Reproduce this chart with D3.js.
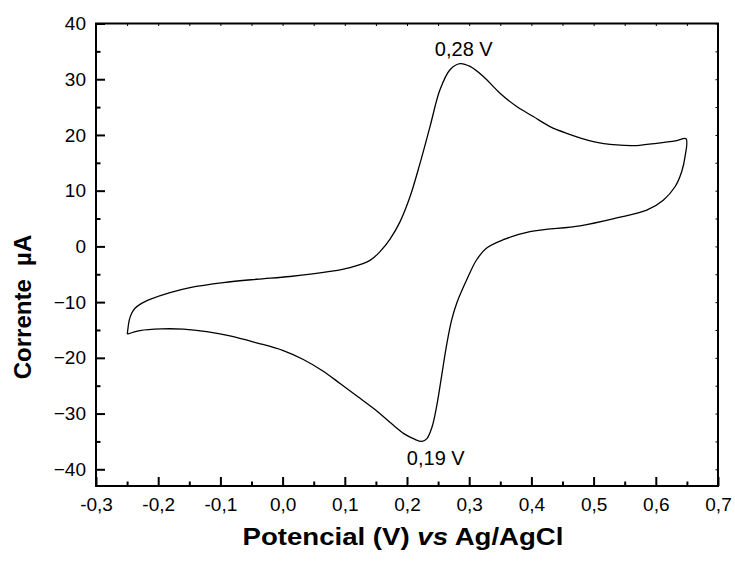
<!DOCTYPE html>
<html>
<head>
<meta charset="utf-8">
<script src="https://cdn.jsdelivr.net/npm/d3@7"></script>
<style>
  body { margin: 0; background: #fff; }
  text { font-family: "Liberation Sans", Arial, sans-serif; fill: #000; }
</style>
</head>
<body>
<div id="chart"></div>
<script>
// forward scan (anodic), -0.25 V -> 0.65 V
const potentialFwd = [-0.2497, -0.2464, -0.2426, -0.2373, -0.2293, -0.2212, -0.2132, -0.181, -0.1489, -0.0953,
  -0.0417, 0.0119, 0.0762, 0.1084, 0.1405, 0.157, 0.1727, 0.1887, 0.2048, 0.2209, 0.237, 0.253, 0.2691,
  0.2852, 0.3013, 0.3227, 0.3495, 0.3764, 0.403, 0.4299, 0.4567, 0.4995, 0.5371, 0.5693, 0.6014,
  0.6336, 0.6486];
const currentFwd = [-15.75, -13.2, -12.0, -11.1, -10.4, -9.9, -9.5, -8.3, -7.4, -6.5,
  -5.9, -5.4, -4.5, -3.8, -2.5, -0.9, 1.3, 4.4, 8.9, 14.9, 21.5, 28.1, 31.7,
  32.8, 32.3, 30.5, 27.5, 25.1, 23.3, 21.5, 20.3, 18.8, 18.2, 18.1, 18.5,
  19.0, 19.3];

// reverse scan (cathodic), 0.65 V -> -0.25 V
const potentialRev = [0.647, 0.6416, 0.6309, 0.612, 0.5854, 0.5371, 0.4781, 0.3977, 0.3548, 0.3281, 0.312,
  0.296, 0.2799, 0.2718, 0.264, 0.256, 0.248, 0.24, 0.232, 0.224, 0.212, 0.195, 0.175, 0.15, 0.12,
  0.0923, 0.0654, 0.0333, 0.0011, -0.0417, -0.0846, -0.122, -0.1596, -0.1944, -0.2293, -0.2497];
const currentRev = [16.1, 13.4, 10.7, 8.3, 6.5, 5.1, 3.7, 2.65, 1.2, -0.3, -2.4,
  -6.0, -10.2, -13.2, -17.5, -23.0, -28.5, -32.5, -34.5, -35.0, -34.6, -33.6, -31.8, -29.4, -26.9,
  -24.6, -22.4, -20.3, -18.7, -17.3, -16.05, -15.3, -14.85, -14.8, -15.1, -15.75];

const xTicks = [-0.3, -0.2, -0.1, 0.0, 0.1, 0.2, 0.3, 0.4, 0.5, 0.6, 0.7];
const yTicks = [-40, -30, -20, -10, 0, 10, 20, 30, 40];
const peaks = [
  { v: 0.28, i: 32.7, label: "0,28 V", dx: 7, dy: -8.5 },
  { v: 0.19, i: -34.9, label: "0,19 V", dx: 35, dy: 24 }
];

const width = 735, height = 561;
const margin = { top: 23.5, right: 17, bottom: 75, left: 96 };

const svg = d3.select("#chart").append("svg")
  .attr("width", width)
  .attr("height", height);

const x = d3.scaleLinear().domain([-0.3, 0.7]).range([margin.left, width - margin.right]);
const y = d3.scaleLinear().domain([-43, 40]).range([height - margin.bottom, margin.top]);

const comma = (d) => d3.format(".1f")(d).replace(".", ",").replace("−", "-");
const minorX = d3.range(-0.25, 0.7, 0.1);
const minorY = d3.range(-35, 40, 10);

// bottom axis
svg.append("g")
  .attr("transform", `translate(0,${y.range()[0]})`)
  .call(d3.axisBottom(x).tickValues(xTicks).tickFormat(comma).tickSizeInner(-9).tickSizeOuter(0).tickPadding(11.5))
  .call((g) => g.select(".domain").remove())
  .call((g) => g.selectAll(".tick line").attr("stroke-width", 2))
  .call((g) => g.selectAll("text").attr("font-size", 19));
svg.append("g")
  .attr("transform", `translate(0,${y.range()[0]})`)
  .call(d3.axisBottom(x).tickValues(minorX).tickFormat("").tickSizeInner(-4.5).tickSizeOuter(0))
  .call((g) => g.select(".domain").remove())
  .call((g) => g.selectAll(".tick line").attr("stroke-width", 2));

// left axis
svg.append("g")
  .attr("transform", `translate(${x.range()[0]},0)`)
  .call(d3.axisLeft(y).tickValues(yTicks).tickSizeInner(-9).tickSizeOuter(0).tickPadding(10))
  .call((g) => g.select(".domain").remove())
  .call((g) => g.selectAll(".tick line").attr("stroke-width", 2))
  .call((g) => g.selectAll("text").attr("font-size", 19));
svg.append("g")
  .attr("transform", `translate(${x.range()[0]},0)`)
  .call(d3.axisLeft(y).tickValues(minorY).tickFormat("").tickSizeInner(-4.5).tickSizeOuter(0))
  .call((g) => g.select(".domain").remove())
  .call((g) => g.selectAll(".tick line").attr("stroke-width", 2));

// top and right: tiny inward ticks
svg.append("g")
  .attr("transform", `translate(0,${y.range()[1]})`)
  .call(d3.axisTop(x).tickValues(xTicks.concat(minorX)).tickFormat("").tickSizeInner(-2.5).tickSizeOuter(0))
  .call((g) => g.select(".domain").remove());
svg.append("g")
  .attr("transform", `translate(${x.range()[1]},0)`)
  .call(d3.axisRight(y).tickValues(yTicks.concat(minorY)).tickFormat("").tickSizeInner(-2.5).tickSizeOuter(0))
  .call((g) => g.select(".domain").remove());

// frame
svg.append("rect")
  .attr("x", x.range()[0])
  .attr("y", y.range()[1])
  .attr("width", x.range()[1] - x.range()[0])
  .attr("height", y.range()[0] - y.range()[1])
  .attr("fill", "none")
  .attr("stroke", "#000")
  .attr("stroke-width", 2);

// voltammogram
const pts = potentialFwd.map((v, k) => [v, currentFwd[k]])
  .concat(potentialRev.map((v, k) => [v, currentRev[k]]));

const line = d3.line()
  .x((d) => x(d[0]))
  .y((d) => y(d[1]))
  .curve(d3.curveCatmullRom.alpha(0.5));

svg.append("path")
  .datum(pts)
  .attr("fill", "none")
  .attr("stroke", "#000")
  .attr("stroke-width", 1.3)
  .attr("stroke-linejoin", "round")
  .attr("d", line);

// peak labels
svg.selectAll(".peak")
  .data(peaks)
  .join("text")
  .attr("class", "peak")
  .attr("x", (d) => x(d.v) + d.dx)
  .attr("y", (d) => y(d.i) + d.dy)
  .attr("text-anchor", "middle")
  .attr("font-size", 20)
  .text((d) => d.label);

// axis titles
const xt = svg.append("text")
  .attr("transform", "translate(403,545) scale(1.2,1)")
  .attr("text-anchor", "middle")
  .attr("font-size", 23)
  .attr("font-weight", "bold");
xt.append("tspan").text("Potencial (V) ");
xt.append("tspan").attr("font-style", "italic").text("vs");
xt.append("tspan").text(" Ag/AgCl");

svg.append("text")
  .attr("transform", "translate(31,307) rotate(-90)")
  .attr("text-anchor", "middle")
  .attr("font-size", 24)
  .attr("font-weight", "bold")
  .style("white-space", "pre")
  .text("Corrente  µA");
</script>
</body>
</html>
